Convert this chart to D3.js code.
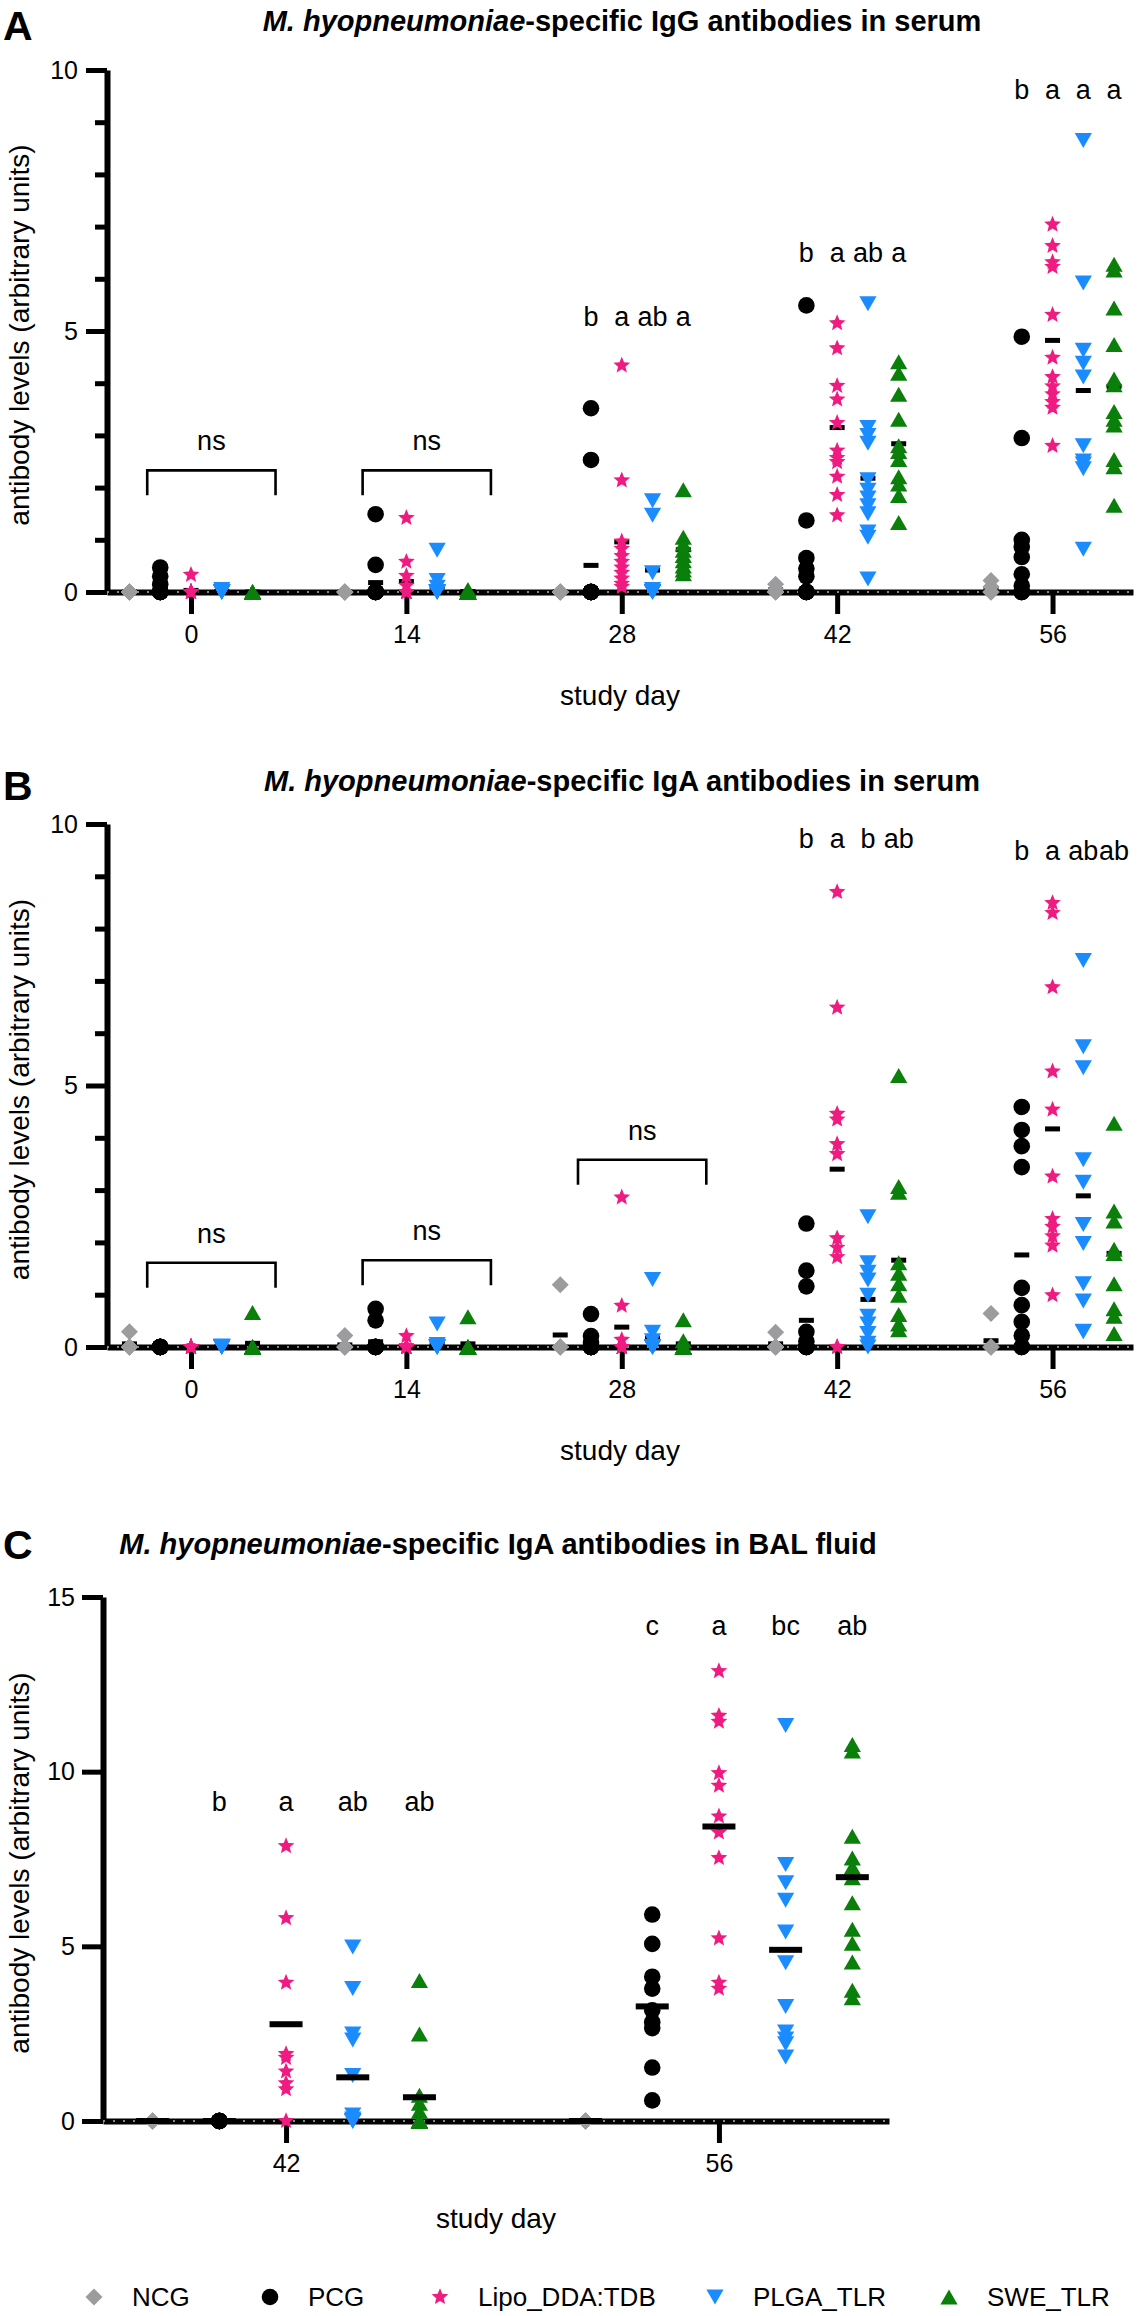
<!DOCTYPE html>
<html><head><meta charset="utf-8">
<script src="https://cdn.jsdelivr.net/npm/d3@7"></script>
<style>
body{margin:0;background:#fff}
svg text{font-family:"Liberation Sans",Arial,Helvetica,sans-serif}
</style></head><body>
<svg id="chart" width="1144" height="2316" xmlns="http://www.w3.org/2000/svg"></svg>
<script>
// ---------------- DATA ----------------
const groups = ["NCG", "PCG", "Lipo_DDA:TDB", "PLGA_TLR", "SWE_TLR"];
const serumDays = [0, 14, 28, 42, 56];
const balDays = [42, 56];
const serumYTicks = [0, 5, 10];
const serumYMinor = [1, 2, 3, 4, 6, 7, 8, 9];
const balYTicks = [0, 5, 10, 15];

// Panel A: IgG in serum (values per study day)
const igG_NCG = [[0,0,0,0,0],[0,0,0,0,0],[0,0,0,0,0],[0.15,0.05,0,0,0],[0.22,0.1,0,0,0]];
const igG_PCG = [
  [0.47,0.3,0.15,0,0,0,0,0,0,0,0],
  [1.49,0.52,0,0,0,0,0,0,0,0,0],
  [3.52,2.53,0,0,0,0,0,0,0,0,0],
  [5.49,1.37,0.65,0.45,0.3,0,0,0,0,0,0],
  [4.89,2.95,1.0,0.86,0.67,0.34,0.12,0,0,0,0]];
const igG_Lipo = [
  [0.33,0,0,0,0,0,0,0,0,0],
  [1.42,0.58,0.31,0.12,0,0,0,0,0,0,0],
  [4.34,2.14,0.97,0.83,0.69,0.58,0.47,0.37,0.26,0.16,0.1],
  [5.15,4.67,3.95,3.69,3.24,2.71,2.57,2.49,2.21,1.86,1.47],
  [7.04,6.63,6.32,6.23,5.31,4.49,4.12,3.94,3.79,3.64,3.53,2.8]];
const igG_PLGA = [
  [0.05,0,0,0,0,0,0,0,0,0],
  [0.8,0.22,0.09,0,0,0,0,0,0,0],
  [1.75,1.47,0.37,0.05,0,0,0,0,0,0],
  [5.52,3.15,3.0,2.85,2.15,1.95,1.8,1.65,1.5,1.15,1.05,0.25],
  [8.65,5.92,4.63,4.38,4.12,2.8,2.51,2.45,2.36,0.82]];
const igG_SWE = [
  [0,0,0,0,0,0,0,0,0,0],
  [0.05,0,0,0,0,0,0,0,0,0],
  [1.96,1.05,0.92,0.8,0.7,0.6,0.5,0.42,0.35],
  [4.41,4.19,3.79,3.31,2.8,2.69,2.54,2.21,2.07,1.85,1.33],
  [6.28,6.17,5.44,4.74,4.08,3.97,3.46,3.31,3.2,2.54,2.4,1.66]];
const igG_means = [
  [0,0,0,0.04,0.06],
  [0.08,0.18,0.51,0.69,0.98],
  [0.03,0.2,0.96,3.15,4.82],
  [0.01,0.1,0.42,2.18,3.86],
  [0,0.01,0.81,2.84,3.94]];
const igG_letters = [["","","","",""],["","","","",""],["","b","a","ab","a"],["","b","a","ab","a"],["","b","a","a","a"]];
const igG_letterLevels = [null, null, 5.1, 6.32, 9.44];
const igG_nsDays = [0, 14];
const igG_nsLevels = [2.33, 2.33];

// Panel B: IgA in serum
const igA_NCG = [[0.29,0,0,0,0],[0.22,0,0,0,0],[1.19,0,0,0,0],[0.28,0,0,0,0],[0.64,0,0,0,0]];
const igA_PCG = [
  [0,0,0,0,0,0,0,0,0,0,0],
  [0.73,0.51,0,0,0,0,0,0,0,0,0],
  [0.63,0.21,0.08,0,0,0,0,0,0,0,0],
  [2.36,1.46,1.16,0.29,0.11,0,0,0,0,0,0],
  [4.59,4.15,3.84,3.44,1.13,0.8,0.48,0.22,0,0,0]];
const igA_Lipo = [
  [0,0,0,0,0,0,0,0,0,0],
  [0.21,0,0,0,0,0,0,0,0,0],
  [2.86,0.79,0.14,0,0,0,0,0,0,0],
  [8.7,6.49,4.46,4.35,3.88,3.69,2.08,1.9,1.72,0,0],
  [8.49,8.3,6.88,5.27,4.54,3.26,2.45,2.3,2.12,1.94,0.99]];
const igA_PLGA = [
  [0.02,0,0,0,0,0,0,0,0,0],
  [0.44,0.05,0,0,0,0,0,0,0,0],
  [1.29,0.28,0.12,0,0,0,0,0,0,0],
  [2.49,1.61,1.43,1.28,0.99,0.59,0.44,0.26,0.07,0],
  [7.39,5.74,5.34,3.58,3.15,2.34,1.98,1.21,0.88,0.3,0.29]];
const igA_SWE = [
  [0.66,0,0,0,0,0,0,0,0,0],
  [0.58,0,0,0,0,0,0,0,0,0],
  [0.52,0.12,0,0,0,0,0,0,0,0],
  [5.19,3.07,2.96,1.61,1.41,1.21,0.99,0.62,0.44,0.33],
  [4.28,2.6,2.41,1.87,1.79,1.21,0.73,0.59,0.26]];
const igA_means = [
  [0.06,0.04,0.23,0.06,0.12],
  [0,0.1,0.08,0.51,1.76],
  [0,0.02,0.38,3.4,4.17],
  [0,0.05,0.17,0.91,2.89],
  [0.07,0.06,0.06,1.66,1.79]];
const igA_letters = [["","","","",""],["","","","",""],["","","","",""],["","b","a","b","ab"],["","b","a","ab","ab"]];
const igA_letterLevels = [null, null, null, 9.54, 9.31];
const igA_nsDays = [0, 14, 28];
const igA_nsLevels = [1.61, 1.66, 3.58];

// Panel C: IgA in BAL fluid
const bal_NCG = [[0,0,0,0,0],[0,0,0,0,0]];
const bal_PCG = [[0,0,0,0,0,0,0,0,0],[5.91,5.07,4.13,3.79,3.17,2.83,2.66,1.53,0.59]];
const bal_Lipo = [[7.87,5.81,3.96,1.92,1.81,1.42,1.08,0.91,0],[12.88,11.6,11.43,9.96,9.6,8.72,8.26,7.53,5.23,3.96,3.79]];
const bal_PLGA = [[4.98,3.79,2.49,2.32,1.3,0.17,0.06,0,0,0,0,0],[11.32,7.34,6.82,6.32,5.41,4.53,3.28,2.55,2.35,2.21,1.83]];
const bal_SWE = [[4.02,2.49,0.74,0.51,0.28,0,0,0,0,0,0,0],[10.78,10.59,8.15,7.53,7.27,6.96,6.25,5.49,5.09,4.55,3.74,3.53]];
const bal_means = [[0,0],[0,3.28],[2.77,8.43],[1.25,4.9],[0.68,6.98]];
const bal_letters = [["","b","a","ab","ab"],["","c","a","bc","ab"]];
const bal_letterLevels = [8.87, 13.91];

// ---------------- DRAWING ----------------
const colors = ["#9c9c9e", "#000000", "#f01b80", "#1b8cff", "#0a7f0a"];
const svg = d3.select("#chart");

function markerPath(g) {
  const p = d3.path();
  if (g === 0) { const s = 8.5; p.moveTo(0,-s); p.lineTo(s,0); p.lineTo(0,s); p.lineTo(-s,0); p.closePath(); }
  else if (g === 1) { p.moveTo(8.3,0); p.arc(0,0,8.3,0,2*Math.PI); p.closePath(); }
  else if (g === 2) {
    const R = 8.8, r = 3.9;
    for (let i = 0; i < 10; i++) {
      const a = -Math.PI/2 + i*Math.PI/5, rr = i % 2 ? r : R;
      if (i) p.lineTo(rr*Math.cos(a), rr*Math.sin(a)); else p.moveTo(rr*Math.cos(a), rr*Math.sin(a));
    }
    p.closePath();
  }
  else if (g === 3) { p.moveTo(-8.6,-7.5); p.lineTo(8.6,-7.5); p.lineTo(0,7.5); p.closePath(); }
  else { p.moveTo(-8.6,7.5); p.lineTo(8.6,7.5); p.lineTo(0,-7.5); p.closePath(); }
  return p.toString();
}

function styleAxis(sel, fontSize) {
  sel.attr("font-family", null).attr("font-size", null);
  sel.selectAll("path.domain").attr("stroke", "#000").attr("stroke-width", 6);
  sel.selectAll(".tick line").attr("stroke", "#000").attr("stroke-width", 5);
  sel.selectAll(".tick text").attr("fill", "#000").style("font-size", fontSize + "px");
}

function drawPanel(c) {
  const g = svg.append("g");
  const x = d3.scaleLinear().domain(c.xDomain).range(c.xRange);
  const y = d3.scaleLinear().domain([0, c.yMax]).range(c.yRange);
  const gx = (day, gi) => x(day + (gi - 2) * c.groupStep);

  // y axis
  const ya = g.append("g").attr("transform", `translate(${c.xRange[0]},0)`)
    .call(d3.axisLeft(y).tickValues(c.yTicks).tickSize(21).tickSizeOuter(0).tickPadding(c.yPad).tickFormat(d3.format("d")));
  styleAxis(ya, 25);
  if (c.yMinor) {
    const ym = g.append("g").attr("transform", `translate(${c.xRange[0]},0)`)
      .call(d3.axisLeft(y).tickValues(c.yMinor).tickSize(12).tickSizeOuter(0).tickFormat(""));
    ym.select("path.domain").remove();
    styleAxis(ym, 25);
  }
  // x axis
  const xa = g.append("g").attr("transform", `translate(0,${y(0)})`)
    .call(d3.axisBottom(x).tickValues(c.days).tickSize(22).tickSizeOuter(0).tickPadding(11).tickFormat(d3.format("d")));
  styleAxis(xa, 25);
  // dotted line at y = 0
  g.append("line").attr("x1", c.xRange[0]).attr("x2", c.xRange[1]).attr("y1", y(0)).attr("y2", y(0))
    .attr("stroke", "#b5b5b5").attr("stroke-width", 1.6).attr("stroke-dasharray", "2,8");

  const drawMeans = () => {
    c.means.forEach((row, gi) => {
      g.selectAll(null).data(row.map((m, di) => ({m, day: c.days[di]}))).enter().append("rect")
        .attr("x", d => gx(d.day, gi) - c.dashW / 2).attr("y", d => y(d.m) - c.dashH / 2)
        .attr("width", c.dashW).attr("height", c.dashH).attr("fill", "#000");
    });
  };
  if (!c.meansOnTop) drawMeans();
  // points
  c.series.forEach((ser, gi) => {
    c.days.forEach((day, di) => {
      g.selectAll(null).data(ser[di]).enter().append("path")
        .attr("d", markerPath(gi))
        .attr("transform", v => `translate(${gx(day, gi)},${y(v)})`)
        .attr("fill", colors[gi]);
    });
  });
  if (c.meansOnTop) drawMeans();
  // significance letters
  c.days.forEach((day, di) => {
    if (c.letterLevels[di] == null) return;
    c.letters[di].forEach((t, gi) => {
      if (!t) return;
      g.append("text").attr("x", gx(day, gi)).attr("y", y(c.letterLevels[di]))
        .attr("text-anchor", "middle").style("font-size", "27px").text(t);
    });
  });
  // ns brackets
  if (c.nsDays) {
    c.nsDays.forEach((day, i) => {
      const x1 = gx(day, 1) - 13, x2 = gx(day, 4) + 23, yy = y(c.nsLevels[i]);
      g.append("path").attr("d", `M${x1},${yy + 25}V${yy}H${x2}V${yy + 25}`)
        .attr("fill", "none").attr("stroke", "#000").attr("stroke-width", 2.6);
      g.append("text").attr("x", (x1 + x2) / 2).attr("y", yy - 20).attr("text-anchor", "middle")
        .style("font-size", "27px").text("ns");
    });
  }
  // titles
  const tt = g.append("text").attr("x", c.titleX).attr("y", c.titleY).attr("text-anchor", "middle")
    .style("font-size", "29px").style("font-weight", "bold");
  tt.append("tspan").style("font-style", "italic").text("M. hyopneumoniae");
  tt.append("tspan").text(c.titleRest);
  g.append("text").attr("x", 3).attr("y", c.letterY).style("font-size", "41px").style("font-weight", "bold").text(c.panel);
  g.append("text").attr("x", (c.xRange[0] + c.xRange[1]) / 2).attr("y", y(0) + c.xTitleOff)
    .attr("text-anchor", "middle").style("font-size", "28px").text("study day");
  const yc = (c.yRange[0] + c.yRange[1]) / 2 + 4;
  g.append("text").attr("transform", `translate(29,${yc}) rotate(-90)`)
    .attr("text-anchor", "middle").style("font-size", "28px").text("antibody levels (arbitrary units)");
}

drawPanel({
  panel: "A", letterY: 40, titleX: 622, titleY: 30.5, titleRest: "-specific IgG antibodies in serum",
  xDomain: [-5.46, 61.23], xRange: [107, 1133], yMax: 10, yRange: [592, 70],
  yTicks: serumYTicks, yMinor: serumYMinor, yPad: 8, days: serumDays, groupStep: 2,
  series: [igG_NCG, igG_PCG, igG_Lipo, igG_PLGA, igG_SWE], means: igG_means, meansOnTop: false,
  dashW: 15, dashH: 5, letters: igG_letters, letterLevels: igG_letterLevels,
  nsDays: igG_nsDays, nsLevels: igG_nsLevels, xTitleOff: 113
});
drawPanel({
  panel: "B", letterY: 800, titleX: 622, titleY: 791, titleRest: "-specific IgA antibodies in serum",
  xDomain: [-5.46, 61.23], xRange: [107, 1133], yMax: 10, yRange: [1347, 824],
  yTicks: serumYTicks, yMinor: serumYMinor, yPad: 8, days: serumDays, groupStep: 2,
  series: [igA_NCG, igA_PCG, igA_Lipo, igA_PLGA, igA_SWE], means: igA_means, meansOnTop: false,
  dashW: 15, dashH: 5, letters: igA_letters, letterLevels: igA_letterLevels,
  nsDays: igA_nsDays, nsLevels: igA_nsLevels, xTitleOff: 113
});
drawPanel({
  panel: "C", letterY: 1559, titleX: 498, titleY: 1554, titleRest: "-specific IgA antibodies in BAL fluid",
  xDomain: [36.08, 61.5], xRange: [103, 889], yMax: 15, yRange: [2121, 1597],
  yTicks: balYTicks, yMinor: null, yPad: 7, days: balDays, groupStep: 2.157,
  series: [bal_NCG, bal_PCG, bal_Lipo, bal_PLGA, bal_SWE], means: bal_means, meansOnTop: true,
  dashW: 33, dashH: 6, letters: bal_letters, letterLevels: bal_letterLevels,
  nsDays: null, xTitleOff: 107
});

// legend
const legendX = [94, 270, 440, 715, 949];
const lg = svg.append("g");
groups.forEach((name, gi) => {
  lg.append("path").attr("d", markerPath(gi)).attr("transform", `translate(${legendX[gi]},2297)`).attr("fill", colors[gi]);
  lg.append("text").attr("x", legendX[gi] + 38).attr("y", 2306).style("font-size", "26px").text(name);
});
</script></body></html>
